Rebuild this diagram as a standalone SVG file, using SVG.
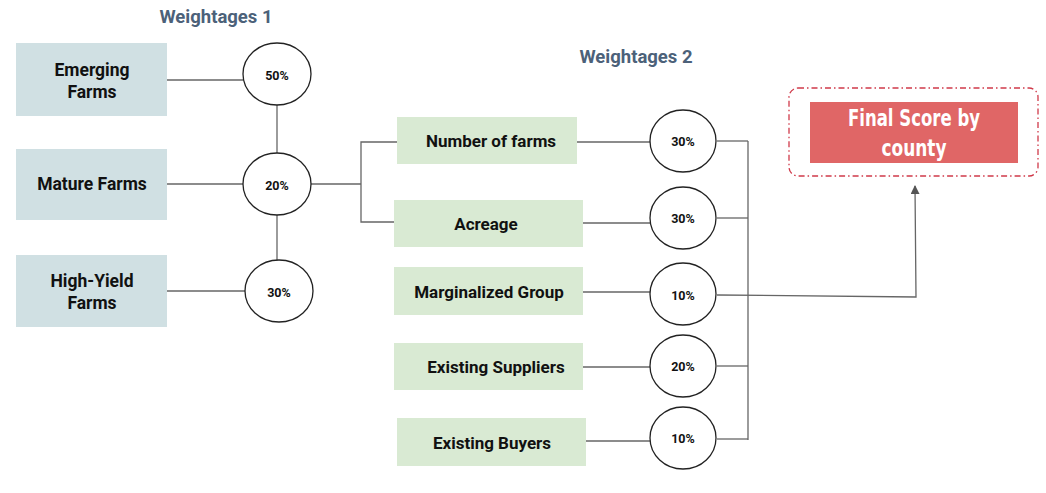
<svg xmlns="http://www.w3.org/2000/svg" width="1046" height="493" viewBox="0 0 1046 493">
<style>
.bg{fill:#fff}
.b1{fill:#d0e0e3}
.b2{fill:#d9ead3}
.t{font-family:Roboto,"Liberation Sans",sans-serif;font-weight:bold;font-size:17.5px;fill:#111;text-anchor:middle;dominant-baseline:central}
.t2{font-family:Roboto,"Liberation Sans",sans-serif;font-weight:bold;font-size:17px;fill:#111;text-anchor:middle;dominant-baseline:central}
.p{font-family:Roboto,"Liberation Sans",sans-serif;font-weight:bold;font-size:12.5px;fill:#111;text-anchor:middle;dominant-baseline:central}
.h{font-family:Roboto,"Liberation Sans",sans-serif;font-weight:bold;font-size:18.5px;fill:#4c6179;text-anchor:middle;dominant-baseline:central}
.c{fill:#fff;stroke:#222;stroke-width:1.3}
.ln{fill:none;stroke:#666;stroke-width:1.3}
.f{font-family:"DejaVu Sans Condensed","Liberation Sans",sans-serif;font-weight:bold;font-size:23px;fill:#fff;text-anchor:middle;dominant-baseline:central}
</style>
<defs>
<marker id="ah" viewBox="0 0 10 10" refX="9" refY="5" markerWidth="9" markerHeight="9" markerUnits="userSpaceOnUse" orient="auto">
<path d="M0,0 L10,5 L0,10 z" fill="#555"/>
</marker>
</defs>
<rect class="bg" width="1046" height="493"/>
<text class="h" x="216" y="17">Weightages 1</text>
<text class="h" x="636" y="57">Weightages 2</text>
<g id="connectors">
<path class="ln" d="M167,80 H243"/>
<path class="ln" d="M167,184 H243"/>
<path class="ln" d="M166,291 H245"/>
<path class="ln" d="M277,105 V154"/>
<path class="ln" d="M277,215 V260"/>
<path class="ln" d="M311,184 H361"/>
<path class="ln" d="M397,142 H361 V222 H395"/>
<path class="ln" d="M577,142 H650"/>
<path class="ln" d="M583,223 H650"/>
<path class="ln" d="M583,292 H650"/>
<path class="ln" d="M583,367 H650"/>
<path class="ln" d="M586,441 H650"/>
<path class="ln" d="M717,141 H748"/>
<path class="ln" d="M717,218 H748"/>
<path class="ln" d="M717,366 H748"/>
<path class="ln" d="M717,439 H748"/>
<path class="ln" d="M748,141 V440"/>
<path class="ln" d="M717,295 L916,297 L915,186" marker-end="url(#ah)"/>
</g>
<g id="n-emerging"><rect class="b1" x="16" y="43" width="151" height="73"/><text class="t" x="92" y="70">Emerging</text><text class="t" x="92" y="92">Farms</text></g>
<g id="n-mature"><rect class="b1" x="16" y="149" width="151" height="71"/><text class="t" x="92" y="184">Mature Farms</text></g>
<g id="n-highyield"><rect class="b1" x="16" y="255" width="151" height="72"/><text class="t" x="92" y="281">High-Yield</text><text class="t" x="92" y="303">Farms</text></g>
<g id="c-50"><ellipse class="c" cx="277" cy="74" rx="34" ry="31"/><text class="p" x="277" y="75">50%</text></g>
<g id="c-20a"><ellipse class="c" cx="277" cy="184" rx="34" ry="31"/><text class="p" x="277" y="185">20%</text></g>
<g id="c-30a"><ellipse class="c" cx="279" cy="291" rx="34" ry="31"/><text class="p" x="279" y="292">30%</text></g>
<g id="n-number"><rect class="b2" x="397" y="117" width="180" height="47"/><text class="t2" x="491" y="141">Number of farms</text></g>
<g id="n-acreage"><rect class="b2" x="394" y="200" width="189" height="47"/><text class="t2" x="486" y="224">Acreage</text></g>
<g id="n-marginalized"><rect class="b2" x="394" y="267" width="189" height="48"/><text class="t2" x="489" y="292">Marginalized Group</text></g>
<g id="n-suppliers"><rect class="b2" x="394" y="343" width="189" height="47"/><text class="t2" x="496" y="367">Existing Suppliers</text></g>
<g id="n-buyers"><rect class="b2" x="397" y="418" width="189" height="48"/><text class="t2" x="492" y="443">Existing Buyers</text></g>
<g id="c-30b"><ellipse class="c" cx="683" cy="141" rx="33" ry="31"/><text class="p" x="683" y="141">30%</text></g>
<g id="c-30c"><ellipse class="c" cx="683" cy="218" rx="33" ry="31"/><text class="p" x="683" y="218">30%</text></g>
<g id="c-10a"><ellipse class="c" cx="683" cy="294" rx="33" ry="31"/><text class="p" x="683" y="295">10%</text></g>
<g id="c-20b"><ellipse class="c" cx="683" cy="366" rx="33" ry="31"/><text class="p" x="683" y="366">20%</text></g>
<g id="c-10b"><ellipse class="c" cx="683" cy="438" rx="33" ry="31"/><text class="p" x="683" y="438">10%</text></g>
<g id="n-final">
<rect x="789" y="88" width="249" height="88" rx="9" fill="none" stroke="#d03a4a" stroke-width="1.3" stroke-dasharray="6,3,1.5,3"/>
<rect x="810" y="102" width="208" height="61" fill="#e06666"/>
<text class="f" x="914" y="118" textLength="132" lengthAdjust="spacingAndGlyphs">Final Score by</text>
<text class="f" x="914" y="148" textLength="65" lengthAdjust="spacingAndGlyphs">county</text>
</g>
</svg>
